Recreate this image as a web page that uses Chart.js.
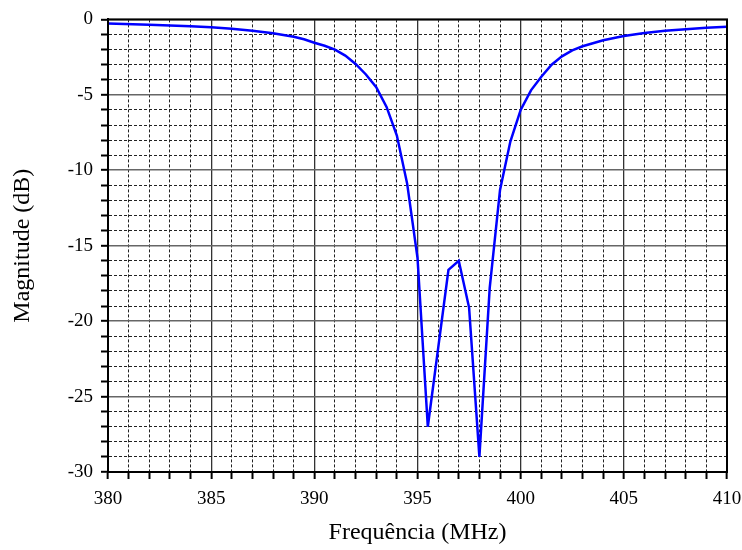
<!DOCTYPE html>
<html>
<head>
<meta charset="utf-8">
<script src="https://cdn.jsdelivr.net/npm/chart.js@4.4.0/dist/chart.umd.min.js"></script>
<style>
  body { margin: 0; background: #fff; }
</style>
</head>
<body>
<canvas id="myChart" width="742" height="550"></canvas>
<script>
// frequency (MHz) and magnitude (dB)
var freqs = [380, 382, 384, 385, 386, 387, 388, 389, 389.5, 390, 390.5, 391, 391.5, 392, 392.5, 393, 393.5, 394, 394.5,
             395, 395.5, 396, 396.5, 397, 397.5, 398, 398.5, 399, 399.5, 400, 400.5, 401, 401.5, 402, 402.5, 403,
             404, 405, 406, 407, 408, 409, 410];
var magDb = [-0.28, -0.35, -0.45, -0.52, -0.62, -0.75, -0.92, -1.15, -1.32, -1.55, -1.75, -2.0, -2.4, -2.95, -3.65, -4.5, -5.8, -7.7, -10.9,
             -15.8, -27.0, -21.8, -16.6, -16.0, -19.1, -29.0, -17.8, -11.3, -8.1, -6.0, -4.7, -3.8, -3.0, -2.45, -2.05, -1.78,
             -1.38, -1.1, -0.9, -0.76, -0.65, -0.55, -0.48];
var xLabels = [380, 385, 390, 395, 400, 405, 410];
var yLabels = [0, -5, -10, -15, -20, -25, -30];

var points = [];
for (var i = 0; i < freqs.length; i++) {
  points.push({x: freqs[i], y: magDb[i]});
}

function isMajor(ctx, list) {
  return ctx.tick && list.indexOf(ctx.tick.value) >= 0;
}

// box around the plot area
var frame = {
  id: 'frame',
  afterDraw: function(chart) {
    var a = chart.chartArea, c = chart.ctx;
    c.save();
    c.strokeStyle = '#000';
    c.lineWidth = 2;
    c.strokeRect(a.left, a.top, a.right - a.left, a.bottom - a.top);
    c.restore();
  }
};

var tickFont = {family: "'Liberation Serif', 'Times New Roman', serif", size: 19};
var titleFont = {family: "'Liberation Serif', 'Times New Roman', serif", size: 24};

new Chart("myChart", {
  type: "scatter",
  data: {
    datasets: [{
      data: points,
      showLine: true,
      borderColor: '#0000ff',
      borderWidth: 2.5,
      pointRadius: 0,
      tension: 0,
      fill: false
    }]
  },
  plugins: [frame],
  options: {
    responsive: false,
    animation: false,
    layout: {padding: {top: 17, right: 15, left: 0, bottom: 0}},
    plugins: {
      legend: {display: false},
      tooltip: {enabled: false}
    },
    scales: {
      x: {
        type: 'linear',
        min: 380,
        max: 410,
        afterFit: function(s) {
          s.height = 78;
          s.paddingLeft = 0;
          s.paddingRight = 0;
        },
        ticks: {
          stepSize: 1,
          autoSkip: false,
          maxRotation: 0,
          padding: 9,
          color: '#000',
          font: tickFont,
          callback: function(v) { return xLabels.indexOf(v) >= 0 ? String(v) : ''; }
        },
        grid: {
          drawTicks: true,
          tickLength: 7,
          tickColor: '#000',
          tickWidth: 2,
          color: function(ctx) { return isMajor(ctx, xLabels) ? '#333' : '#222'; },
          lineWidth: function(ctx) { return isMajor(ctx, xLabels) ? 1.3 : 1; }
        },
        border: {
          color: '#000',
          width: 2,
          dash: function(ctx) { return isMajor(ctx, xLabels) ? [] : [3, 2]; }
        },
        title: {
          display: true,
          text: 'Frequência (MHz)',
          color: '#000',
          font: titleFont,
          padding: {top: 0, bottom: 3}
        }
      },
      y: {
        min: -30,
        max: 0,
        afterFit: function(s) { s.width = 108; },
        ticks: {
          stepSize: 1,
          autoSkip: false,
          padding: 8,
          color: '#000',
          font: tickFont,
          callback: function(v) { return yLabels.indexOf(v) >= 0 ? String(v) : ''; }
        },
        grid: {
          drawTicks: true,
          tickLength: 7,
          tickColor: '#000',
          tickWidth: 2,
          color: function(ctx) { return isMajor(ctx, yLabels) ? '#666' : '#222'; },
          lineWidth: function(ctx) { return isMajor(ctx, yLabels) ? 1.6 : 1; }
        },
        border: {
          color: '#000',
          width: 2,
          dash: function(ctx) { return isMajor(ctx, yLabels) ? [] : [3, 2]; }
        },
        title: {
          display: true,
          text: 'Magnitude (dB)',
          color: '#000',
          font: titleFont,
          padding: {top: 8, bottom: 0}
        }
      }
    }
  }
});
</script>
</body>
</html>
